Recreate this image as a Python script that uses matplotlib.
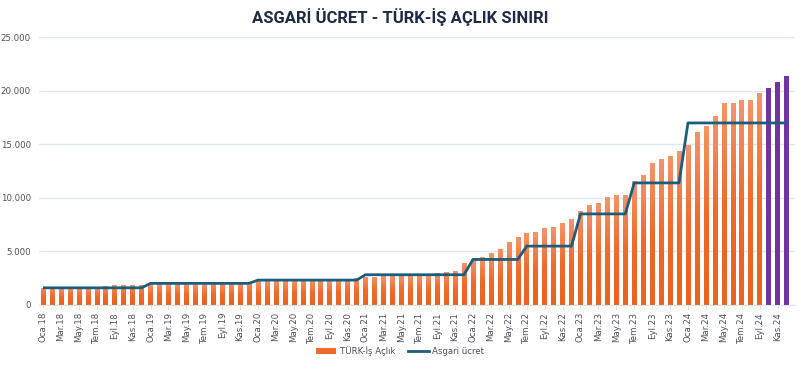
import matplotlib
matplotlib.use("Agg")
import matplotlib.pyplot as plt
import numpy as np
from matplotlib.ticker import FuncFormatter
from matplotlib.lines import Line2D
from matplotlib.patches import Patch
from matplotlib.colors import LinearSegmentedColormap

months = ["Oca", "Şub", "Mar", "Nis", "May", "Haz", "Tem", "Ağu", "Eyl", "Eki", "Kas", "Ara"]
years = ["18", "19", "20", "21", "22", "23", "24"]
categories = [f"{m}.{y}" for y in years for m in months]

# TÜRK-İŞ hunger line (monthly, TL)
hunger_2018 = [1590, 1595, 1600, 1605, 1610, 1615, 1620, 1780, 1840, 1870, 1870, 1875]
hunger_2019 = [1930, 1940, 1945, 1950, 1955, 1960, 1960, 1965, 1970, 1980, 2000, 2110]
hunger_2020 = [2230, 2250, 2270, 2290, 2300, 2310, 2310, 2320, 2330, 2440, 2450, 2500]
hunger_2021 = [2640, 2660, 2680, 2700, 2720, 2740, 2760, 2800, 3030, 3080, 3170, 3960]
hunger_2022 = [4280, 4470, 4840, 5240, 5920, 6340, 6770, 6800, 7170, 7330, 7640, 8020]
hunger_2023 = [8800, 9330, 9510, 10080, 10300, 10300, 11540, 12100, 13260, 13600, 13950, 14350]
hunger_2024 = [14980, 16190, 16690, 17660, 18870, 18900, 19150, 19190, 19780, 20250, 20810, 21370]
hunger = hunger_2018 + hunger_2019 + hunger_2020 + hunger_2021 + hunger_2022 + hunger_2023 + hunger_2024

# Net minimum wage (monthly, TL)
wage_2018 = [1603, 1603, 1603, 1603, 1603, 1603, 1603, 1603, 1603, 1603, 1603, 1603]
wage_2019 = [2020, 2020, 2020, 2020, 2020, 2020, 2020, 2020, 2020, 2020, 2020, 2020]
wage_2020 = [2325, 2325, 2325, 2325, 2325, 2325, 2325, 2325, 2325, 2325, 2325, 2325]
wage_2021 = [2826, 2826, 2826, 2826, 2826, 2826, 2826, 2826, 2826, 2826, 2826, 2826]
wage_2022 = [4253, 4253, 4253, 4253, 4253, 4253, 5500, 5500, 5500, 5500, 5500, 5500]
wage_2023 = [8507, 8507, 8507, 8507, 8507, 8507, 11402, 11402, 11402, 11402, 11402, 11402]
wage_2024 = [17002, 17002, 17002, 17002, 17002, 17002, 17002, 17002, 17002, 17002, 17002, 17002]
wage = wage_2018 + wage_2019 + wage_2020 + wage_2021 + wage_2022 + wage_2023 + wage_2024

highlight_last = 3  # last months drawn in purple

orange = "#EF6A2C"
orange_top = "#F3946A"
orange_bottom = "#E9621F"
purple = "#7232A0"
line_col = "#1D5D7C"
grid_col = "#DDE7F3"
text_col = "#4A4F5C"

fig = plt.figure(figsize=(8.0, 3.66), dpi=100)
ax = fig.add_axes([39/800, 1 - 305/366, (795 - 39)/800, (305 - 37.3)/366])

x = list(range(len(categories)))
colors = [orange] * (len(x) - highlight_last) + [purple] * highlight_last
bars = ax.bar(x, hunger, width=0.5, color=colors, edgecolor="none", zorder=2)

# vertical gradient on the orange bars
cmap = LinearSegmentedColormap.from_list("og", [orange_bottom, orange, orange_top])
grad = np.linspace(0, 1, 64).reshape(-1, 1)
for i, b in enumerate(bars):
    if i >= len(x) - highlight_last:
        continue
    bx, by = b.get_x(), b.get_y()
    bw, bh = b.get_width(), b.get_height()
    im = ax.imshow(grad, cmap=cmap, origin="lower", aspect="auto",
                   extent=[bx, bx + bw, by, by + bh], zorder=2.1, interpolation="bilinear")
    im.set_clip_path(b)

ax.plot(x, wage, color=line_col, linewidth=2.0, zorder=3, solid_capstyle="butt")

ax.set_ylim(0, 25000)
ax.set_xlim(-0.45, len(x) - 0.05)
ax.set_yticks([0, 5000, 10000, 15000, 20000, 25000])
ax.yaxis.set_major_formatter(FuncFormatter(lambda v, p: f"{int(v):,}".replace(",", ".")))
ax.grid(axis="y", color=grid_col, linewidth=1.0, zorder=0)
ax.set_axisbelow(True)

ax.set_xticks(x[::2])
ax.set_xticklabels(categories[::2], rotation=90, fontsize=6.2, color=text_col)
ax.tick_params(axis="x", length=3, color=grid_col, pad=2)
ax.tick_params(axis="y", length=0, labelsize=6.2, labelcolor=text_col, pad=6)

for s in ["top", "right", "left"]:
    ax.spines[s].set_visible(False)
ax.spines["bottom"].set_color(grid_col)

fig.text(0.5, 1 - 17/366, "ASGARİ ÜCRET - TÜRK-İŞ AÇLIK SINIRI", ha="center", va="center",
         fontsize=12, fontweight="bold", color="#1E2B45", family="Roboto")

handles = [Patch(facecolor=orange, edgecolor="none"),
           Line2D([0], [0], color=line_col, linewidth=2.0)]
fig.legend(handles, ["TÜRK-İş Açlık", "Asgari ücret"], loc="center", bbox_to_anchor=(0.5, 1 - 351/366),
           ncol=2, frameon=False, fontsize=6.2, labelcolor=text_col, handlelength=2.4,
           handleheight=0.6, columnspacing=1.5, handletextpad=0.4)

fig.savefig("out.png", dpi=100, facecolor="white")
